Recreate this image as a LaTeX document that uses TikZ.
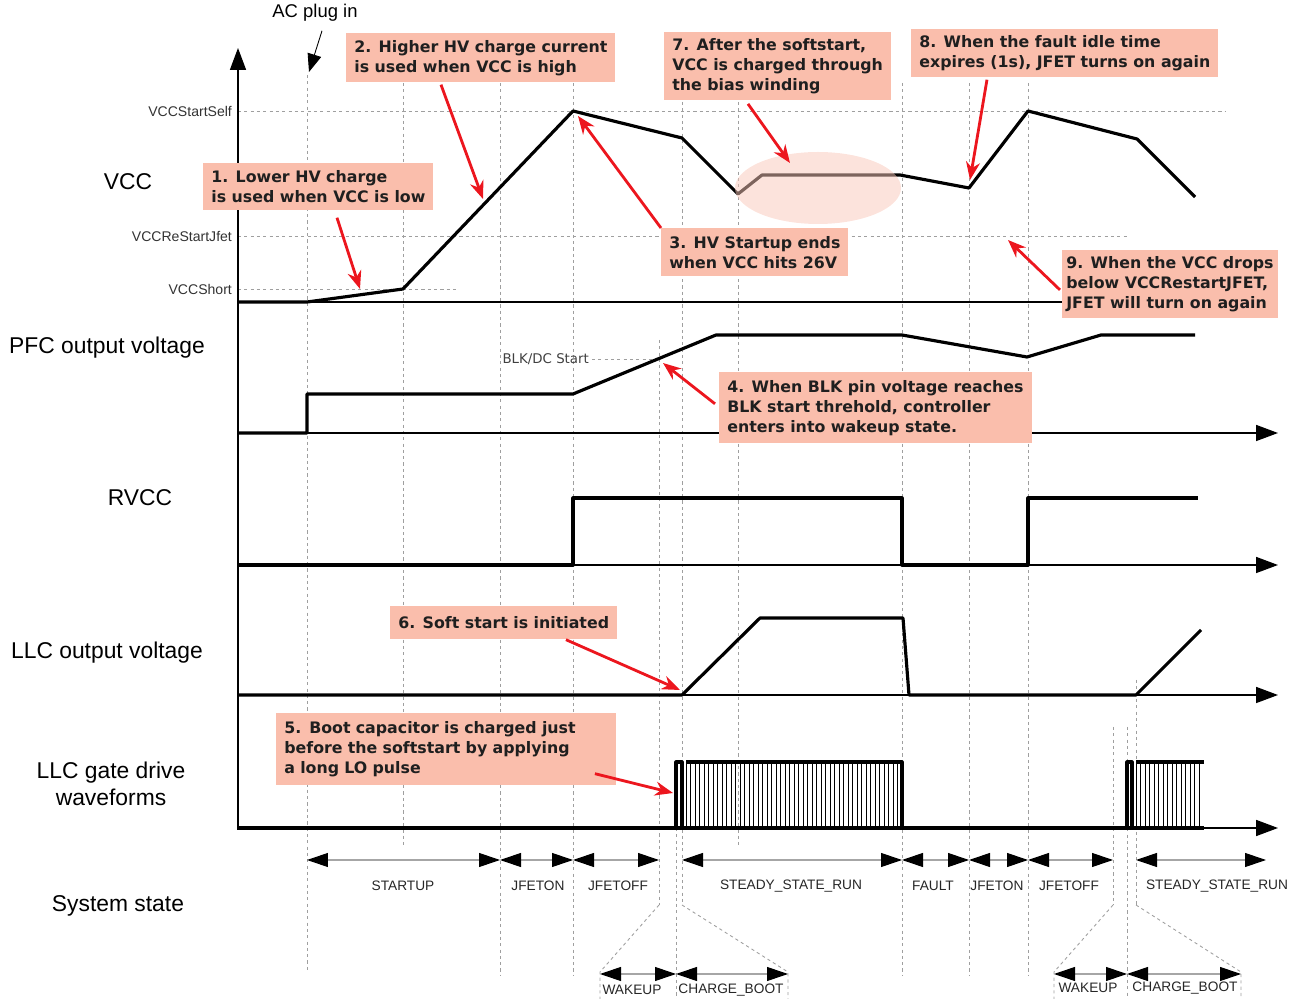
\documentclass[tikz,border=0pt]{standalone}
\usepackage{fontspec}
\setmainfont{Liberation Sans}
\newfontfamily\notefont{DejaVu Sans}
\usetikzlibrary{arrows.meta}
\definecolor{notefill}{RGB}{250,190,172}
\definecolor{notered}{RGB}{236,22,30}
\definecolor{ringfill}{RGB}{250,200,186}

\begin{document}
\begin{tikzpicture}[x=0.02cm, y=-0.02cm]
            \tikzstyle{wave} = [line width=1.8pt, line join=round]
            \tikzstyle{axis} = [line width=0.9pt, -{Triangle[length=4.4mm, width=3.2mm]}]
            \tikzstyle{grid} = [gray!75, line width=0.5pt, dash pattern=on 1.8pt off 1.8pt]
            \tikzstyle{note} = [fill=notefill, anchor=north west, align=left, inner xsep=0.16cm, text=black!88, font=\notefont\bfseries\fontsize{9}{11.4}\selectfont]
            \tikzstyle{pointer} = [notered, line width=1.6pt, -{Stealth[length=3.6mm, width=2.8mm]}]
            \tikzstyle{signal} = [align=center, font=\fontsize{13}{15.5}\selectfont]
            \tikzstyle{level} = [anchor=east, inner sep=1pt, text=black!80, font=\fontsize{8}{10}\selectfont]
            \tikzstyle{state} = [text=black!85, font=\fontsize{7.8}{9}\selectfont]
            \tikzstyle{span} = [gray!70, line width=0.6pt, {Triangle[length=4.2mm, width=2.8mm, color=black]}-{Triangle[length=4.2mm, width=2.8mm, color=black]}]

            \useasboundingbox (0,0) rectangle (1299,999);

            \foreach \x/\a/\b in {307/75/970, 403/83/848, 500/83/975, 573/83/975, 682/83/905, 738/83/848, 902/83/975, 969/83/975, 1028/83/975, 659/340/905, 676/828/999, 1113/727/905, 1127/727/999, 1136/680/905}
              \draw[grid] (\x,\a) -- (\x,\b);
            \draw[grid] (659,905) -- (600,972) -- (600,999);
            \draw[grid] (682,905) -- (788,972) -- (788,999);
            \draw[grid] (1113,905) -- (1054,972) -- (1054,999);
            \draw[grid] (1136,905) -- (1241,972) -- (1241,999);
            \draw[grid] (238,111) -- (1225,111);
            \draw[grid] (238,236) -- (1127,236);
            \draw[grid] (238,289) -- (457,289);
            \draw[grid] (592,359) -- (660,359);

            \node[level] (lstart) at (234,111) {VCCStartSelf};
            \node[level] (lrestart) at (234,236) {VCCReStartJfet};
            \node[level] (lshort) at (234,289) {VCCShort};
            \node[anchor=east, inner sep=1pt, text=black!75, font=\notefont\fontsize{7.6}{9}\selectfont] (lblk) at (591,359) {BLK/DC Start};

            \node[signal] (svcc) at (128,182) {VCC};
            \node[signal] (spfc) at (107,348) {PFC output voltage};
            \node[signal] (srvcc) at (140,498) {RVCC};
            \node[signal] (sllc) at (107,653) {LLC output voltage};
            \node[signal] (sgate) at (111,784) {LLC gate drive\\waveforms};
            \node[signal] (ssys) at (118,906) {System state};

            \node[font=\fontsize{10.5}{12}\selectfont] (acplug) at (315,13) {AC plug in};
            \coordinate (acpoint) at (309,72);
            \draw[line width=0.5pt, -{Triangle[length=3.6mm, width=2.8mm]}] ([xshift=0.14cm, yshift=-0.06cm]acplug.south) -- (acpoint);

            \draw[axis] (238,830) -- (238,48);
            \draw[line width=0.9pt] (238,302) -- (1062,302);
            \draw[axis] (238,433) -- (1278,433);
            \draw[axis] (238,565) -- (1278,565);
            \draw[axis] (238,695) -- (1278,695);
            \draw[axis] (238,828) -- (1278,828);

            \draw[wave] (238,302) -- (307,302) -- (403,289) -- (573,111) -- (682,138) -- (738,194) -- (762,175) -- (900,175) -- (969,188) -- (1028,111) -- (1137,139) -- (1195,197);
            \draw[wave] (238,433) -- (307,433) -- (307,394) -- (573,394) -- (716,335) -- (902,335) -- (1027,357) -- (1101,335) -- (1195,335);
            \draw[wave] (238,565) -- (573,565) -- (573,498) -- (902,498) -- (902,565) -- (1028,565) -- (1028,498) -- (1198,498);
            \draw[wave] (238,695) -- (682,695) -- (760,618) -- (903,618) -- (909,695) -- (1136,695) -- (1201,630);

            \draw[wave] (238,828) -- (1127,828);
            \draw[wave] (676,828) rectangle (682,762);
            \draw[wave] (686,762) -- (902,762) -- (902,828);
            \foreach \x in {686,690.5,...,900}
              \draw[line width=0.5pt] (\x,762) -- (\x,828);
            \draw[wave] (1127,828) rectangle (1132,762);
            \draw[wave] (1136,762) -- (1204,762);
            \draw[wave] (1132,828) -- (1204,828);
            \foreach \x in {1136,1140.5,...,1203}
              \draw[line width=0.5pt] (\x,762) -- (\x,828);

            \fill[ringfill, opacity=0.5] (818,188) ellipse [x radius=83, y radius=36];

            \foreach \n/\x in {a/307, b/500, c/573, d/659, e/682, f/902, g/969, h/1028, i/1113, j/1136, k/1266}
              \coordinate (s\n) at (\x,860);
            \foreach \u/\v in {a/b, b/c, c/d, e/f, f/g, g/h, h/i, j/k}
              \draw[span] (s\u) -- (s\v);
            \foreach \n/\x in {a/600, b/676, c/788, d/1054, e/1127, f/1241}
              \coordinate (w\n) at (\x,974);
            \foreach \u/\v in {a/b, b/c, d/e, e/f}
              \draw[span] (w\u) -- (w\v);

            \node[state] (st1) at (403,886) {STARTUP};
            \node[state] (st2) at (538,886) {JFETON};
            \node[state] (st3) at (618,886) {JFETOFF};
            \node[state] (st4) at (791,886) {STEADY\_STATE\_RUN};
            \node[state] (st5) at (933,886) {FAULT};
            \node[state] (st6) at (997,886) {JFETON};
            \node[state] (st7) at (1069,886) {JFETOFF};
            \node[state] (st8) at (1217,886) {STEADY\_STATE\_RUN};
            \node[state] (st9) at (632,990) {WAKEUP};
            \node[state] (st10) at (731,990) {CHARGE\_BOOT};
            \node[state] (st11) at (1088,988) {WAKEUP};
            \node[state] (st12) at (1185,988) {CHARGE\_BOOT};

            \node[note, minimum height=0.94cm] (n1) at (203,163) {1. Lower HV charge\\is used when VCC is low};
            \node[note, minimum height=0.98cm] (n2) at (346,33) {2. Higher HV charge current\\is used when VCC is high};
            \node[note, minimum height=0.96cm] (n3) at (661,228) {3. HV Startup ends\\when VCC hits 26V};
            \node[note, minimum height=1.42cm] (n4) at (719,372) {4. When BLK pin voltage reaches\\BLK start threhold, controller\\enters into wakeup state.};
            \node[note, minimum height=1.44cm, text width=6.48cm] (n5) at (276,713) {5. Boot capacitor is charged just\\before the softstart by applying\\a long LO pulse};
            \node[note, minimum height=0.66cm] (n6) at (390,606) {6. Soft start is initiated};
            \node[note, minimum height=1.32cm] (n7) at (664,32) {7. After the softstart,\\VCC is charged through\\the bias winding};
            \node[note, minimum height=0.96cm] (n8) at (911,29) {8. When the fault idle time\\expires (1s), JFET turns on again};
            \node[note, minimum height=1.32cm, inner xsep=0.08cm] (n9) at (1062,250) {9. When the VCC drops\\below VCCRestartJFET,\\JFET will turn on again};

            \coordinate (p1) at (360,289);
            \coordinate (p2) at (483,199);
            \coordinate (p3) at (578,116);
            \coordinate (p4) at (663,363);
            \coordinate (p5) at (673,793);
            \coordinate (p6) at (680,690);
            \coordinate (p7) at (790,163);
            \coordinate (p8) at (970,180);
            \coordinate (p9) at (1008,240);

            \draw[pointer] ([xshift=2.68cm, yshift=-0.14cm]n1.south west) -- (p1);
            \draw[pointer] ([xshift=1.9cm, yshift=-0.04cm]n2.south west) -- (p2);
            \draw[pointer] (n3.north west) -- (p3);
            \draw[pointer] ([xshift=-0.08cm, yshift=0.08cm]n4.west) -- (p4);
            \draw[pointer] ([xshift=6.38cm, yshift=0.24cm]n5.south west) -- (p5);
            \draw[pointer] ([xshift=3.52cm]n6.south west) -- (p6);
            \draw[pointer] ([xshift=1.68cm, yshift=-0.08cm]n7.south west) -- (p7);
            \draw[pointer] ([xshift=1.52cm, yshift=-0.04cm]n8.south west) -- (p8);
            \draw[pointer] ([xshift=-0.04cm, yshift=-0.12cm]n9.west) -- (p9);
          \end{tikzpicture}
\end{document}
